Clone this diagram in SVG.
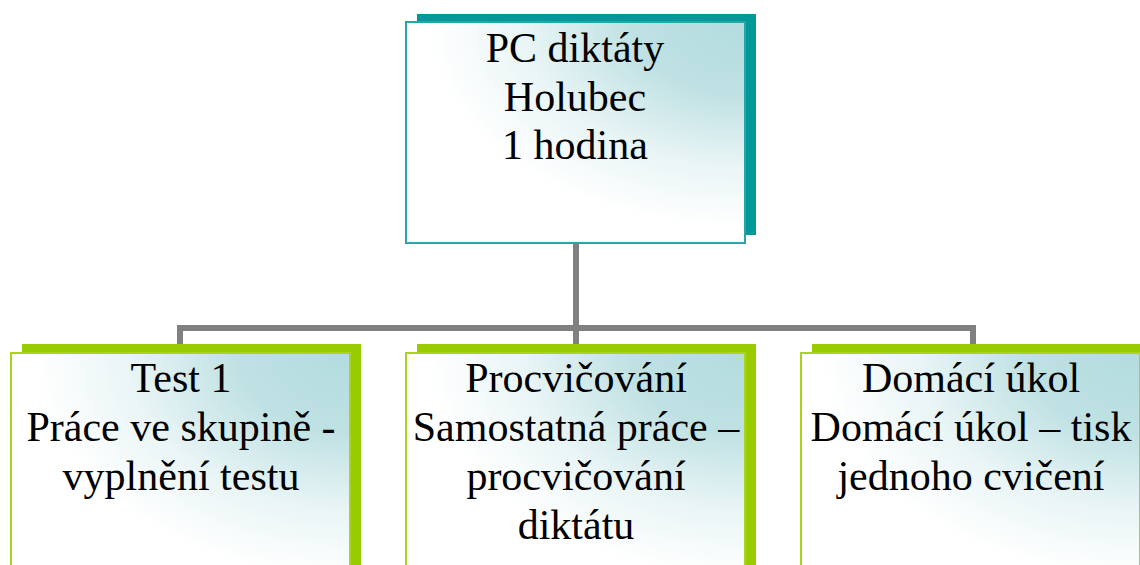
<svg xmlns="http://www.w3.org/2000/svg" width="1140" height="565" viewBox="0 0 1140 565">
<defs>
<radialGradient id="g" cx="1" cy="0" r="1.1" fx="1" fy="0">
<stop offset="0" stop-color="#b3dcdf"/>
<stop offset="0.3" stop-color="#bfe1e3"/>
<stop offset="0.6" stop-color="#eaf5f6"/>
<stop offset="0.85" stop-color="#ffffff"/>
</radialGradient>
<style>
.box{fill:url(#g);stroke-width:2}
.top .sh{fill:#009999}
.top .box{stroke:#2aa5a5}
.bot .sh{fill:#99cc00}
.bot .box{stroke:#a8d41c}
text{font-family:"Liberation Serif","Tinos","DejaVu Serif",serif;font-size:42px;fill:#000;text-anchor:middle}
.conn{fill:none;stroke:#808080;stroke-width:6}
</style>
</defs>
<g id="connectors">
<path class="conn" d="M576 243V328M180 328H973M180 325V345M576 328V345M973 325V345"/>
</g>
<g id="n0" class="top">
<rect class="sh" x="417" y="14" width="339" height="221"/>
<rect class="box" x="406" y="22" width="339" height="221"/>
<text x="575" y="62">PC diktáty</text>
<text x="575" y="111">Holubec</text>
<text x="575" y="159">1 hodina</text>
</g>
<g id="n1" class="bot">
<rect class="sh" x="22" y="344" width="339" height="240"/>
<rect class="box" x="11" y="353" width="339" height="240"/>
<text x="181" y="392">Test 1</text>
<text x="181" y="441">Práce ve skupině -</text>
<text x="181" y="490">vyplnění testu</text>
</g>
<g id="n2" class="bot">
<rect class="sh" x="417" y="344" width="339" height="240"/>
<rect class="box" x="406" y="353" width="339" height="240"/>
<text x="576" y="392">Procvičování</text>
<text x="576" y="441">Samostatná práce –</text>
<text x="576" y="490">procvičování</text>
<text x="576" y="539">diktátu</text>
</g>
<g id="n3" class="bot">
<rect class="sh" x="812" y="344" width="339" height="240"/>
<rect class="box" x="801" y="353" width="339" height="240"/>
<text x="971" y="392">Domácí úkol</text>
<text x="971" y="441">Domácí úkol – tisk</text>
<text x="971" y="490">jednoho cvičení</text>
</g>
</svg>
